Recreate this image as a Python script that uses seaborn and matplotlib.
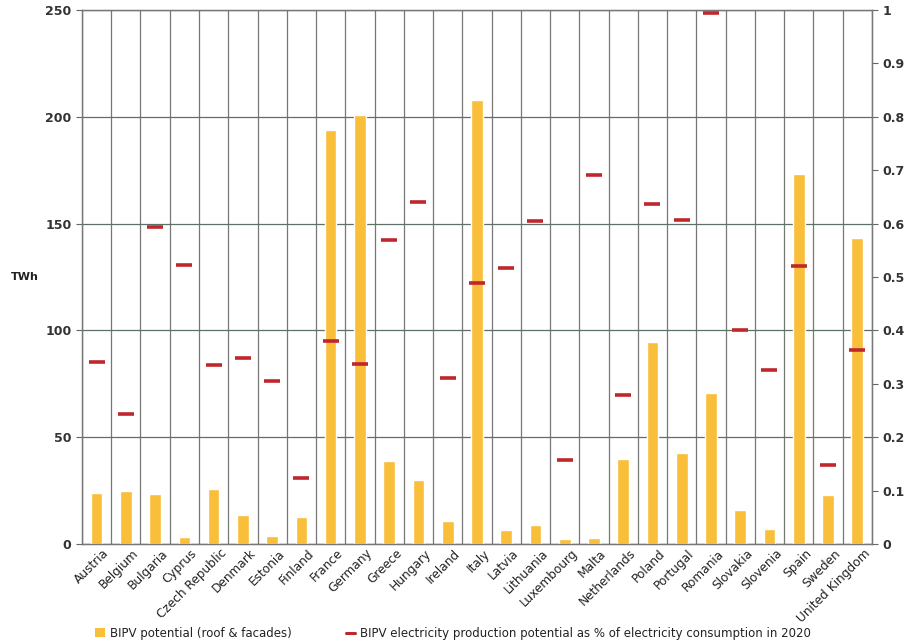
import numpy as np
import pandas as pd
import seaborn as sns
import matplotlib.pyplot as plt
import matplotlib.transforms as mtransforms
from matplotlib.patches import Patch
from matplotlib.lines import Line2D

countries = ["Austria", "Belgium", "Bulgaria", "Cyprus", "Czech Republic", "Denmark",
             "Estonia", "Finland", "France", "Germany", "Greece", "Hungary", "Ireland",
             "Italy", "Latvia", "Lithuania", "Luxembourg", "Malta", "Netherlands",
             "Poland", "Portugal", "Romania", "Slovakia", "Slovenia", "Spain",
             "Sweden", "United Kingdom"]

bipv_twh = [24, 25, 23.5, 3.3, 25.7, 13.6, 3.7, 12.6, 194, 201, 38.9, 30, 10.8,
            208, 6.6, 8.9, 2.3, 2.8, 39.8, 94.6, 42.6, 70.7, 15.9, 7, 173, 23, 143.5]

share_2020 = [0.34, 0.243, 0.593, 0.522, 0.336, 0.349, 0.305, 0.124, 0.38, 0.337,
              0.569, 0.64, 0.311, 0.489, 0.517, 0.605, 0.157, 0.691, 0.279, 0.636,
              0.607, 0.995, 0.40, 0.326, 0.52, 0.148, 0.363]

left_ticks = [0, 50, 100, 150, 200, 250]
right_ticks = [0, 0.1, 0.2, 0.3, 0.4, 0.5, 0.6, 0.7, 0.8, 0.9, 1]
right_labels = ["0", "0.1", "0.2", "0.3", "0.4", "0.5", "0.6", "0.7", "0.8", "0.9", "1"]

bar_color = "#F9BE3A"
dash_color = "#C0272D"
grid_color = "#5d7065"
text_color = "#333333"

sns.set_style("white")
plt.rcParams["font.family"] = ["DejaVu Sans"]

df = pd.DataFrame({"country": countries, "twh": bipv_twh, "share": share_2020})
n = len(countries)

fig = plt.figure(figsize=(9.11, 6.42), dpi=100)
ax = fig.add_axes([0.09, 0.1526, 0.867, 0.8318])

sns.barplot(data=df, x="country", y="twh", color=bar_color, width=0.4,
            saturation=1, ax=ax, zorder=3)
ax.set_ylim(0, 250)
ax.set_yticks(left_ticks)
ax.set_xlim(-0.5, n - 0.5)
ax.set_xticks(np.arange(-0.5, n, 1), minor=True)
ax.grid(axis="y", which="major", color=grid_color, linewidth=0.9)
ax.grid(axis="x", which="minor", color="#777777", linewidth=0.9)
ax.set_axisbelow(True)
ax.tick_params(axis="x", which="major", length=0, pad=2)
ax.tick_params(axis="x", which="minor", length=4, color="#666666", direction="inout")
ax.tick_params(axis="y", length=4, color="#666666", direction="out")
ax.set_xticks(np.arange(n))
ax.set_xticklabels(countries, rotation=45, ha="right", rotation_mode="anchor",
                   fontsize=8.7, color="#222222")
shift = mtransforms.ScaledTranslation(6 / 100, 0, fig.dpi_scale_trans)
for lbl in ax.get_xticklabels():
    lbl.set_transform(lbl.get_transform() + shift)
for lbl in ax.get_yticklabels():
    lbl.set_fontweight("bold")
    lbl.set_fontsize(9)
    lbl.set_color(text_color)
ax.set_xlabel("")
ax.set_ylabel("TWh", rotation=0, fontsize=8, fontweight="bold", color="#222222",
              va="center")
ax.yaxis.set_label_coords(-0.072, 0.5)
for s in ax.spines.values():
    s.set_color("#777777")
    s.set_linewidth(0.9)

ax2 = ax.twinx()
sns.scatterplot(x=np.arange(n), y=df["share"], marker="_", s=130, linewidth=2.6,
                color=dash_color, ax=ax2, zorder=4, legend=False)
ax2.set_ylim(0, 1)
ax2.set_yticks(right_ticks)
ax2.set_yticklabels(right_labels, fontsize=9, fontweight="bold", color=text_color)
ax2.tick_params(axis="y", length=4, color="#666666", direction="out")
ax2.set_ylabel("")
for s in ax2.spines.values():
    s.set_color("#777777")
    s.set_linewidth(0.9)

handles = [Patch(facecolor=bar_color, edgecolor="none"),
           Line2D([], [], color=dash_color, linewidth=2.2)]
labels = ["BIPV potential (roof & facades)",
          "BIPV electricity production potential as % of electricity consumption in 2020"]
fig.legend(handles, labels, loc="lower left", bbox_to_anchor=(0.093, -0.013), ncol=2,
           frameon=False, fontsize=8.5, handlelength=0.8, handletextpad=0.4,
           columnspacing=4.6, labelcolor="#222222")

fig.savefig("out.png", dpi=100)
